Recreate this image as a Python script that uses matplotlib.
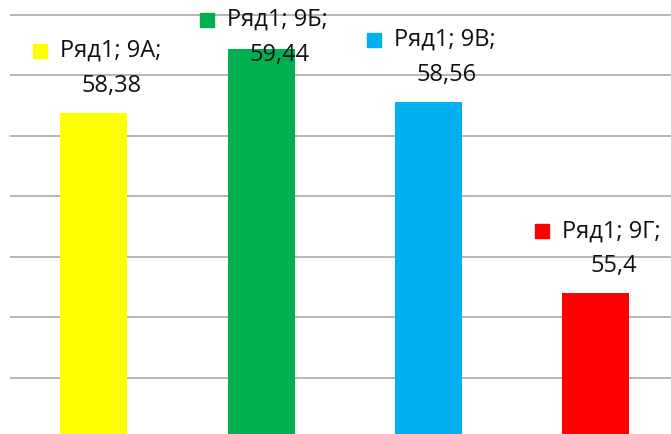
import matplotlib.pyplot as plt
from matplotlib.transforms import offset_copy

plt.rcParams['font.family'] = ['Open Sans', 'DejaVu Sans']

# data
series_name = 'Ряд1'
categories = ['9А', '9Б', '9В', '9Г']
values = [58.38, 59.44, 58.56, 55.4]
colors = ['#FFFF00', '#00B050', '#00B0F0', '#FF0000']
grid_values = [54, 55, 56, 57, 58, 59, 60]

W, H = 671, 434
fig = plt.figure(figsize=(W / 100, H / 100), dpi=100)
ax = fig.add_axes([10 / W, 0, 661 / W, 1])

x = range(len(categories))
ax.bar(x, values, width=0.4, color=colors, zorder=2)

# horizontal gridlines
for g in grid_values:
    ax.axhline(g, color='#b0b0b0', linewidth=1.3, zorder=1)

ax.set_xlim(-0.5, 3.449)
ax.set_ylim(53.074, 60.248)
for s in ax.spines.values():
    s.set_visible(False)
ax.set_xticks([])
ax.set_yticks([])

# data labels: "■ Ряд1; 9А;" / "58,38"
marker_tr = offset_copy(ax.transData, fig=fig, x=-54, y=0, units='dots')
for i, (cat, v, c) in enumerate(zip(categories, values, colors)):
    ly = min(v + 62 / 60.5, 60 - 5 / 60.5)  # keep label inside the top
    ax.plot(i, ly, marker='s', markersize=9.5, color=c, clip_on=False,
            transform=marker_tr, zorder=3)
    ax.annotate(f'{series_name}; {cat};', (i, ly), xytext=(-34, 0),
                textcoords='offset pixels', ha='left', va='center',
                fontsize=17, color='#111111')
    ax.annotate(f'{v:g}'.replace('.', ','), (i, ly), xytext=(18, -35),
                textcoords='offset pixels', ha='center', va='center',
                fontsize=17, color='#111111')

fig.savefig('out.png', dpi=100)
